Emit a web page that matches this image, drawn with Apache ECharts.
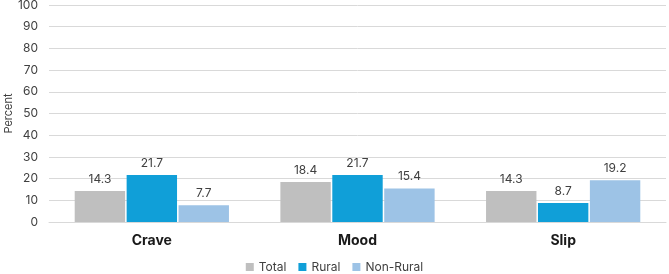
<!DOCTYPE html>
<html>
<head>
<meta charset="utf-8">
<script src="https://cdn.jsdelivr.net/npm/echarts@6/dist/echarts.min.js"></script>
<style>
  html, body { margin: 0; padding: 0; background: #fff; }
  #main { width: 669px; height: 274px; }
</style>
</head>
<body>
<div id="main"></div>
<script>
var categories = ['Crave', 'Mood', 'Slip'];
var total = [14.3, 18.4, 14.3];
var rural = [21.7, 21.7, 8.7];
var nonRural = [7.7, 15.4, 19.2];

var myChart = echarts.init(document.getElementById('main'));

var labelStyle = {
  show: true,
  position: 'top',
  distance: 6,
  color: '#404040',
  fontSize: 12,
  fontFamily: 'Inter, Roboto, sans-serif',
  formatter: function (p) { return p.value.toFixed(1); }
};

var option = {
  animation: false,
  color: ['#bfbfbf', '#109fd8', '#9dc3e6'],
  grid: { left: 49, right: 3, top: 5, bottom: 52, outerBoundsMode: 'none', containLabel: false },
  legend: {
    top: 261,
    left: 'center',
    padding: 0,
    itemWidth: 8,
    itemHeight: 8,
    itemGap: 12,
    icon: 'rect',
    textStyle: { color: '#404040', fontSize: 12, fontFamily: 'Inter, Roboto, sans-serif' },
    data: ['Total', 'Rural', 'Non-Rural']
  },
  xAxis: {
    type: 'category',
    data: categories,
    axisTick: { show: false },
    axisLine: { lineStyle: { color: '#d9d9d9' } },
    axisLabel: {
      margin: 12,
      color: '#1a1a1a',
      fontWeight: 'bold',
      fontSize: 14,
      fontFamily: 'Inter, Roboto, sans-serif'
    }
  },
  yAxis: {
    type: 'value',
    min: 0,
    max: 100,
    interval: 10,
    name: 'Percent',
    nameLocation: 'middle',
    nameGap: 35,
    nameRotate: 90,
    nameMoveOverlap: false,
    nameTextStyle: { color: '#404040', fontSize: 11, fontFamily: 'Inter, Roboto, sans-serif' },
    axisLabel: { color: '#404040', fontSize: 12, margin: 11, fontFamily: 'Inter, Roboto, sans-serif' },
    splitLine: { lineStyle: { color: '#d9d9d9' } }
  },
  series: [
    { name: 'Total', type: 'bar', data: total, barGap: '3%', barCategoryGap: '25%', label: labelStyle },
    { name: 'Rural', type: 'bar', data: rural, label: labelStyle },
    { name: 'Non-Rural', type: 'bar', data: nonRural, label: labelStyle }
  ]
};

myChart.setOption(option);
window.addEventListener('resize', function () {
  myChart.resize();
});
</script>
</body>
</html>
